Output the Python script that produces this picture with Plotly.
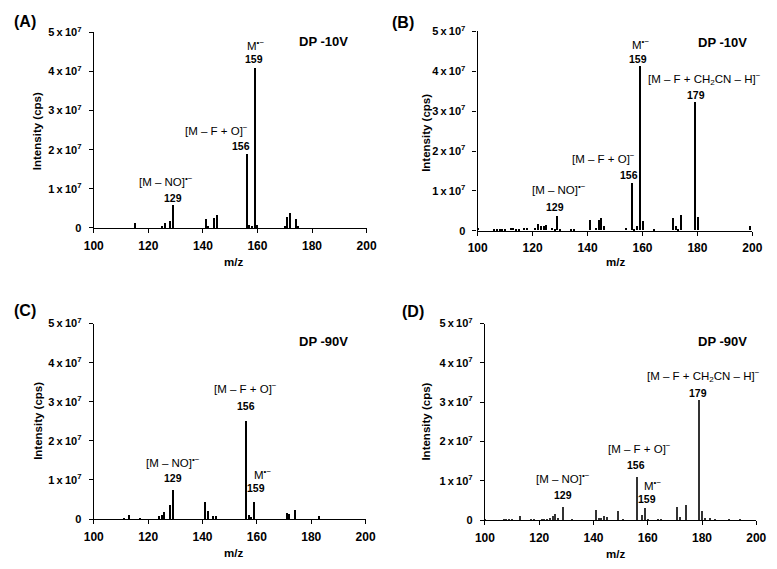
import plotly.graph_objects as go

W, H = 777, 569

# ---------------- data (m/z, intensity in cps) ----------------
mz_A = [115, 125, 126, 128, 129, 141, 142, 144, 145, 156, 157, 158, 159, 160,
        170, 171, 172, 174, 175]
int_A = [1.1e6, 0.4e6, 1.25e6, 1.6e6, 5.8e6, 2.1e6, 0.3e6, 2.5e6, 3.1e6, 18.75e6,
         0.75e6, 0.45e6, 40.7e6, 0.6e6, 0.3e6, 2.6e6, 3.85e6, 2.3e6, 0.4e6]

mz_B = [100, 106, 107, 108, 109, 110, 112, 113, 114, 115, 117, 118, 121, 122, 123,
        124, 125, 127, 128, 129, 130, 134, 135, 141, 143, 144, 145, 146, 154, 156,
        157, 158, 159, 160, 164, 171, 172, 173, 174, 179, 180, 199]
int_B = [0.6e6, 0.25e6, 0.25e6, 0.4e6, 0.4e6, 0.25e6, 0.5e6, 0.5e6, 0.25e6, 0.25e6,
         0.55e6, 0.55e6, 0.6e6, 1.6e6, 1.0e6, 1.2e6, 1.4e6, 0.7e6, 0.4e6, 3.7e6,
         0.25e6, 0.25e6, 0.4e6, 2.5e6, 0.7e6, 2.5e6, 3.2e6, 1.0e6, 0.7e6, 11.8e6,
         0.3e6, 1.1e6, 41.2e6, 2.45e6, 0.4e6, 3.2e6, 1.1e6, 0.4e6, 3.8e6, 32.3e6,
         3.3e6, 1.0e6]

mz_C = [111, 113, 117, 124, 125, 126, 128, 129, 141, 142, 144, 145, 156, 157, 158,
        159, 171, 172, 174, 183]
int_C = [0.15e6, 1.1e6, 0.15e6, 0.9e6, 1.25e6, 2.0e6, 3.8e6, 7.5e6, 4.4e6, 2.1e6,
         1.0e6, 1.0e6, 25.1e6, 1.2e6, 0.6e6, 4.6e6, 1.7e6, 1.4e6, 2.5e6, 0.85e6]

mz_D = [100, 107, 108, 109, 110, 113, 117, 118, 121, 122, 123, 124, 125, 126, 127,
        129, 132, 141, 142, 143, 144, 145, 149, 151, 156, 158, 159, 160, 164, 165,
        171, 172, 174, 179, 180, 181, 183, 185, 190, 194]
int_D = [0.35e6, 0.35e6, 0.3e6, 0.5e6, 0.25e6, 1.15e6, 0.35e6, 0.5e6, 0.3e6, 0.4e6,
         0.5e6, 0.75e6, 1.1e6, 1.65e6, 0.65e6, 3.45e6, 0.4e6, 2.8e6, 0.65e6, 0.65e6,
         1.25e6, 0.9e6, 2.4e6, 0.25e6, 11.1e6, 1.4e6, 3.15e6, 0.4e6, 0.5e6, 0.3e6,
         3.45e6, 0.9e6, 4.0e6, 30.6e6, 2.5e6, 0.75e6, 0.6e6, 0.25e6, 0.15e6, 0.15e6]

x_ticks = [100, 120, 140, 160, 180, 200]
y_ticks = [0, 1e7, 2e7, 3e7, 4e7, 5e7]
y_ticktext = ["0"] + [f"{i}\u2009x\u200910<sup>7</sup>" for i in range(1, 6)]

FONT = "Liberation Sans, Arial, sans-serif"

panels = [
    # (mz, intensity, bar colour, x pixel range, y pixel range)
    (mz_A, int_A, "#000000", (86, 366), (25, 225.5)),
    (mz_B, int_B, "#000000", (480, 762), (24, 228.5)),
    (mz_C, int_C, "#000000", (86, 365), (323.5, 524)),
    (mz_D, int_D, "#333333", (487.5, 766), (323.5, 525)),
]

fig = go.Figure()
layout = dict(width=W, height=H, autosize=False,
              margin=dict(l=0, r=0, t=0, b=0),
              paper_bgcolor="white", plot_bgcolor="white",
              showlegend=False, bargap=0,
              font=dict(family=FONT, color="#000"))

for i, (mz, inten, col, (x0, x1), (yt, yb)) in enumerate(panels):
    k = "" if i == 0 else str(i + 1)
    fig.add_trace(go.Bar(x=mz, y=inten, width=0.55,
                         marker=dict(color=col, line=dict(width=0)),
                         xaxis="x" + k, yaxis="y" + k, hoverinfo="x+y"))
    layout["xaxis" + k] = dict(
        domain=[x0 / W, x1 / W], anchor="y" + k, range=[100, 200],
        tickvals=x_ticks, ticks="outside", ticklen=4, tickwidth=1.2,
        tickcolor="#000", showline=True, linecolor="#000", linewidth=1.3,
        showgrid=False, zeroline=False, ticklabelstandoff=2,
        tickfont=dict(size=12, family=FONT, weight="bold", color="#000"))
    layout["yaxis" + k] = dict(
        domain=[1 - yb / H, 1 - yt / H], anchor="x" + k, range=[0, 5e7],
        tickvals=y_ticks, ticktext=y_ticktext, ticks="outside", ticklen=4,
        tickwidth=1.2, tickcolor="#000", showline=True, linecolor="#000",
        linewidth=1.3, showgrid=False, zeroline=False, ticklabelstandoff=5,
        tickfont=dict(size=11, family=FONT, weight="bold", color="#000"))

fig.update_layout(**layout)


def ann(text, px, py, size, bold=True, xanchor="center", angle=0):
    fig.add_annotation(
        text=("<b>%s</b>" % text) if bold else text,
        x=px / W, y=1 - py / H, xref="paper", yref="paper",
        xanchor=xanchor, yanchor="middle", showarrow=False, textangle=angle,
        font=dict(size=size, family=FONT, color="#000"))


M_rad = "M<sup>•−</sup>"
M_NO = "[M – NO]<sup>•−</sup>"
M_FO = "[M – F + O]<sup>−</sup>"
M_CH = "[M – F + CH<sub>2</sub>CN – H]<sup>−</sup>"
LS = 11.5   # ion label size
NS = 10.5   # m/z number size

# panel letters
ann("(A)", 2, 14, 16, xanchor="left")
ann("(B)", 390, 15, 16, xanchor="left")
ann("(C)", 2, 310, 16, xanchor="left")
ann("(D)", 400, 311, 16, xanchor="left")

# axis titles
for (xp, yp) in [(28, 126), (427, 128), (28, 423), (427, 424)]:
    ann("Intensity (cps)", xp, yp, 11.5, angle=-90)
for (xp, yp) in [(229, 260), (621, 260), (229, 559), (621, 560)]:
    ann("m/z", xp, yp, 11.5)

# DP labels
ann("DP -10V", 322, 34, 13)
ann("DP -10V", 731, 35, 13)
ann("DP -90V", 322, 342, 13)
ann("DP -90V", 731, 342, 13)

# panel A peak labels
ann(M_rad, 252, 38, LS, bold=False)
ann("159", 250, 52, NS)
ann(M_FO, 212, 125, LS, bold=False)
ann("156", 237, 141, NS)
ann(M_NO, 160, 177, LS, bold=False)
ann("129", 167, 195, NS)

# panel B
ann(M_rad, 647, 37, LS, bold=False)
ann("159", 645, 52, NS)
ann(M_CH, 713, 73, LS, bold=False)
ann("179", 704, 89, NS)
ann(M_FO, 609, 154, LS, bold=False)
ann("156", 635, 171, NS)
ann(M_NO, 564, 186, LS, bold=False)
ann("129", 559, 204, NS)

# panel C
ann(M_FO, 242, 390, LS, bold=False)
ann("156", 242, 408, NS)
ann(M_NO, 167, 465, LS, bold=False)
ann("129", 167, 482, NS)
ann(M_rad, 259, 478, LS, bold=False)
ann("159", 253, 492, NS)

# panel D
ann(M_CH, 712, 377, LS, bold=False)
ann("179", 706, 395, NS)
ann(M_FO, 646, 451, LS, bold=False)
ann("156", 643, 469, NS)
ann(M_rad, 659, 489, LS, bold=False)
ann("159", 654, 503, NS)
ann(M_NO, 568, 482, LS, bold=False)
ann("129", 568, 499, NS)

fig.write_html("out.html")
